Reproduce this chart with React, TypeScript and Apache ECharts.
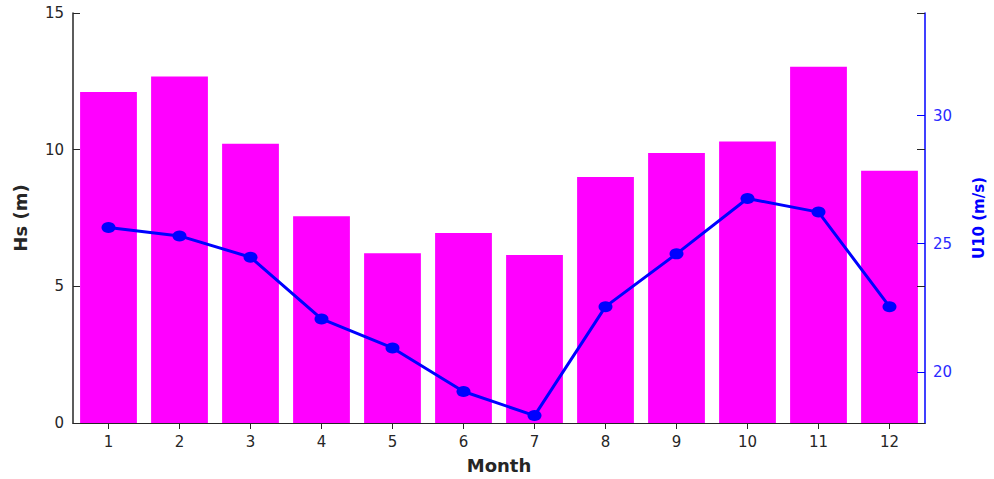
import React, { useEffect, useRef } from "react";
import * as echarts from "echarts";

// Monthly significant wave height and 10 m wind speed
const months = ["1", "2", "3", "4", "5", "6", "7", "8", "9", "10", "11", "12"];
const hsValues = [12.11, 12.68, 10.22, 7.56, 6.21, 6.95, 6.15, 9.0, 9.88, 10.3, 13.03, 9.23];
const u10Values = [25.63, 25.3, 24.47, 22.06, 20.93, 19.23, 18.29, 22.54, 24.6, 26.76, 26.23, 22.54];
const u10Ticks = [20, 25, 30];

const DARK = "#262626";
const BLUE = "#0000ff";
const MAGENTA = "#ff00ff";
const FONT = "DejaVu Sans";

export default function App() {
  const ref = useRef<HTMLDivElement>(null);

  useEffect(() => {
    if (!ref.current) return;
    const chart = echarts.init(ref.current, null, { renderer: "svg" });

    const tickLabel = { fontFamily: FONT, fontSize: 15, color: DARK };

    chart.setOption({
      animation: false,
      backgroundColor: "#ffffff",
      grid: { left: 73, right: 69, top: 13, bottom: 52 },
      xAxis: [
        {
          type: "category",
          data: months,
          position: "bottom",
          z: 3,
          axisLine: { lineStyle: { color: DARK, width: 1 } },
          axisTick: { show: false },
          axisLabel: { ...tickLabel, margin: 11 },
          name: "Month",
          nameLocation: "middle",
          nameGap: 33,
          nameTextStyle: { fontFamily: FONT, fontSize: 18, fontWeight: "bold", color: DARK },
        },
        {
          type: "category",
          data: months,
          position: "top",
          z: 3,
          axisLine: { lineStyle: { color: DARK, width: 1 } },
          axisTick: { show: true, inside: true, length: 6, alignWithLabel: true, lineStyle: { color: DARK } },
          axisLabel: { show: false },
        },
      ],
      yAxis: [
        {
          type: "value",
          position: "left",
          min: 0,
          max: 15,
          interval: 5,
          z: 3,
          splitLine: { show: false },
          axisLine: { show: true, lineStyle: { color: DARK, width: 1.5 } },
          axisTick: { show: true, inside: true, length: 7, lineStyle: { color: DARK } },
          axisLabel: { ...tickLabel, margin: 9, padding: [5, 0, 0, 0] },
          name: "Hs (m)",
          nameLocation: "middle",
          nameRotate: 90,
          nameGap: 44,
          nameTextStyle: { fontFamily: FONT, fontSize: 18, fontWeight: "bold", color: DARK },
        },
        {
          type: "value",
          position: "right",
          min: 18,
          max: 34,
          z: 3,
          splitLine: { show: false },
          axisLine: { show: true, lineStyle: { color: BLUE, width: 1.5 } },
          axisTick: {
            show: true,
            inside: true,
            length: 8,
            customValues: u10Ticks,
            lineStyle: { color: BLUE },
          },
          axisLabel: {
            fontFamily: FONT,
            fontSize: 15,
            color: "#2a2aff",
            margin: 8,
            padding: [5, 0, 0, 0],
            customValues: u10Ticks,
          },
          name: "U10 (m/s)",
          nameLocation: "middle",
          nameRotate: 90,
          nameGap: 46,
          nameTextStyle: { fontFamily: FONT, fontSize: 15, fontWeight: "bold", color: BLUE, verticalAlign: "top" },
        },
        {
          // left-scale ticks repeated on the right edge
          type: "value",
          position: "right",
          min: 0,
          max: 15,
          interval: 5,
          z: 3,
          splitLine: { show: false },
          axisLine: { show: false },
          axisTick: { show: true, inside: true, length: 8, lineStyle: { color: DARK } },
          axisLabel: { show: false },
        },
      ],
      series: [
        {
          type: "bar",
          name: "Hs",
          xAxisIndex: 0,
          yAxisIndex: 0,
          data: hsValues,
          barWidth: "80%",
          itemStyle: { color: MAGENTA },
          z: 2,
        },
        {
          type: "line",
          name: "U10",
          xAxisIndex: 0,
          yAxisIndex: 1,
          data: u10Values,
          symbol: "circle",
          symbolSize: [14, 11],
          lineStyle: { color: BLUE, width: 3 },
          itemStyle: { color: BLUE },
          z: 4,
        },
      ],
    });

    return () => chart.dispose();
  }, []);

  return (
    <div
      ref={ref}
      style={{ position: "absolute", left: 0, top: 0, width: 994, height: 479 }}
    />
  );
}
